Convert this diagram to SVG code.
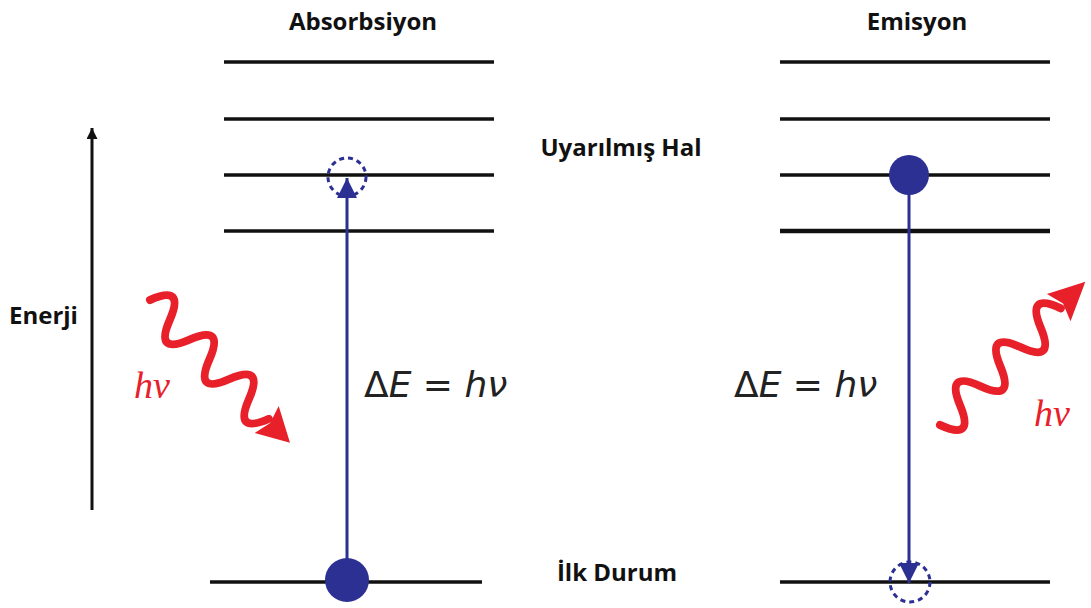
<svg xmlns="http://www.w3.org/2000/svg" width="1091" height="608" viewBox="0 0 1091 608">
<style>
.lvl{stroke:#111;stroke-width:3.5;fill:none}
.blue{stroke:#2c3092;stroke-width:3;fill:none}
.dash{stroke:#2c3092;stroke-width:3;fill:none;stroke-dasharray:5 4}
.dot{fill:#2c3092}
.wave{stroke:#e8202a;stroke-width:8;fill:none;stroke-linecap:round}
.head{fill:#e8202a}
.lbl{font-family:"Open Sans","Liberation Sans",sans-serif;font-weight:bold;font-size:24px;fill:#111}
.eq{font-family:"DejaVu Sans","Liberation Sans",sans-serif;font-size:36px;fill:#222}
.hv{font-family:"Liberation Serif",serif;font-style:italic;font-size:38px;fill:#e8202a}
</style>
<defs>
<marker id="ab" viewBox="0 0 10 10" refX="10" refY="5" markerWidth="15" markerHeight="11" markerUnits="userSpaceOnUse" orient="auto"><path d="M0,0 L10,5 L0,10 z" fill="#111"/></marker>
<marker id="bb" viewBox="0 0 10 10" refX="10" refY="5" markerWidth="28" markerHeight="20" markerUnits="userSpaceOnUse" orient="auto"><path d="M0,0 L10,5 L0,10 z" fill="#2c3092"/></marker>
</defs>
<g id="levels-absorption">
<line class="lvl" x1="224" y1="62" x2="494" y2="62"/>
<line class="lvl" x1="224" y1="119" x2="494" y2="119"/>
<line class="lvl" x1="224" y1="175" x2="494" y2="175"/>
<line class="lvl" x1="224" y1="231" x2="494" y2="231"/>
<line class="lvl" x1="210" y1="582" x2="482" y2="582"/>
</g>
<g id="levels-emission">
<line class="lvl" x1="780" y1="62" x2="1050" y2="62"/>
<line class="lvl" x1="780" y1="119" x2="1050" y2="119"/>
<line class="lvl" x1="780" y1="175" x2="1050" y2="175"/>
<line class="lvl" x1="780" y1="231" x2="1050" y2="231" style="stroke-width:4.5"/>
<line class="lvl" x1="780" y1="582" x2="1050" y2="582"/>
</g>
<g id="connectors">
<line x1="92" y1="510" x2="92" y2="128" stroke="#111" stroke-width="3" marker-end="url(#ab)"/>
<line class="blue" x1="347" y1="565" x2="347" y2="178" marker-end="url(#bb)"/>
<line class="blue" x1="909" y1="190" x2="909" y2="583" marker-end="url(#bb)"/>
</g>
<g id="absorption-electrons">
<circle class="dash" cx="347" cy="177" r="19"/>
<circle class="dot" cx="347" cy="580" r="22"/>
</g>
<g id="emission-electrons">
<circle class="dot" cx="909" cy="175" r="20"/>
<circle class="dash" cx="910" cy="582" r="20"/>
</g>
<g id="photon-in" transform="translate(150,300) rotate(45)">
<path class="wave" d="M0,0 Q14,-36 28,0 T56,0 T84,0 T112,0 T140,0 T168,0"/>
<path class="head" d="M200,2 L166,-16 L172,2 L168,20 z"/>
</g>
<g id="photon-out" transform="translate(940,425) rotate(-44)">
<path class="wave" d="M0,0 Q14,36 28,0 T56,0 T84,0 T112,0 T140,0 T168,0"/>
<path class="head" d="M204,-2 L168,-20 L173,-2 L166,16 z"/>
</g>
<g id="labels">
<text class="lbl" x="363" y="30" text-anchor="middle">Absorbsiyon</text>
<text class="lbl" x="917" y="30" text-anchor="middle">Emisyon</text>
<text class="lbl" x="621" y="156" text-anchor="middle">Uyarılmış Hal</text>
<text class="lbl" x="617" y="581" text-anchor="middle">İlk Durum</text>
<text class="lbl" x="9" y="324">Enerji</text>
<text class="eq" x="364" y="397">Δ<tspan font-style="italic">E</tspan> = <tspan font-style="italic">hν</tspan></text>
<text class="eq" x="734" y="397">Δ<tspan font-style="italic">E</tspan> = <tspan font-style="italic">hν</tspan></text>
<text class="hv" x="134" y="398">hν</text>
<text class="hv" x="1034" y="426">hν</text>
</g>
</svg>
